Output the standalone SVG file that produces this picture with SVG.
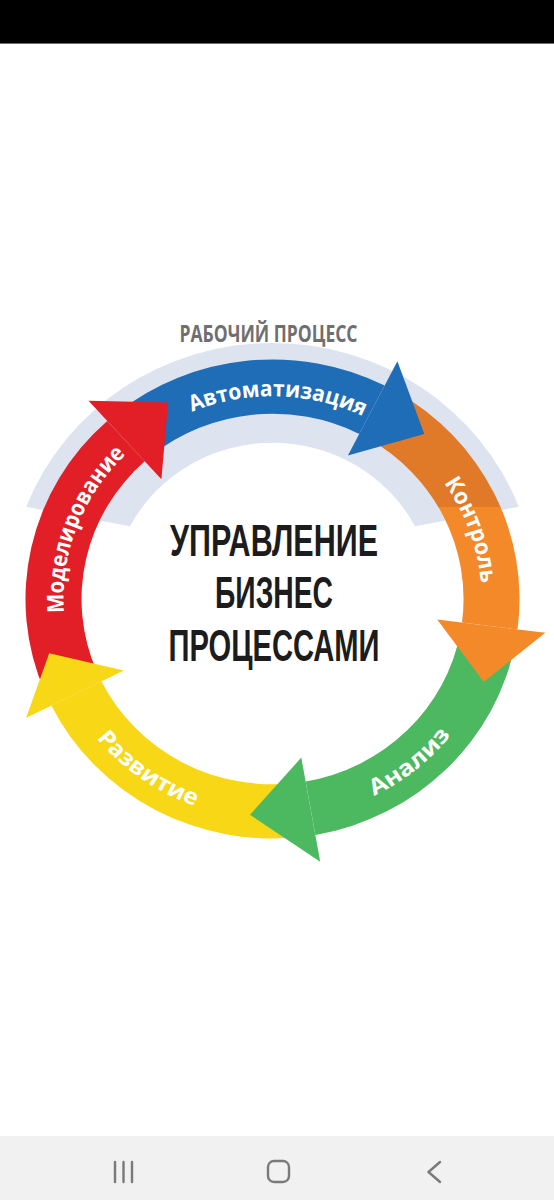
<svg xmlns="http://www.w3.org/2000/svg" width="554" height="1200" viewBox="0 0 554 1200">
<style>
.lbl{font-family:"Open Sans","Liberation Sans",sans-serif;font-weight:700;font-size:23px;fill:#ffffff}
.ctr{font-family:"Liberation Sans","Open Sans",sans-serif;font-weight:700;font-size:45px;fill:#1c1c1c}
.top{font-family:"Open Sans","Liberation Sans",sans-serif;font-weight:700;font-size:23px;fill:#6f6f6f}
.nav{fill:none;stroke:#7a7a7a;stroke-width:2.4;stroke-linecap:round;stroke-linejoin:round}
</style>
<defs>
<linearGradient id="og" gradientUnits="userSpaceOnUse" x1="0" y1="-96" x2="0" y2="-94">
<stop offset="0" stop-color="#e07a28"/><stop offset="0.5" stop-color="#e07a28"/>
<stop offset="0.5" stop-color="#f4892a"/><stop offset="1" stop-color="#f4892a"/>
</linearGradient>
<path id="pAvto" d="M -104.5 -181.0 A 209 209 0 0 1 113.8 -175.3"/>
<path id="pKontr" d="M 134.3 -160.1 A 209 209 0 0 1 205.4 38.5"/>
<path id="pModel" d="M -201.9 54.1 A 209 209 0 0 1 -115.1 -174.5"/>
<path id="pAnal" d="M 36.3 224.1 A 227 227 0 0 0 212.2 80.6"/>
<path id="pRazv" d="M -206.4 94.5 A 227 227 0 0 0 -21.4 226.0"/>
</defs>
<rect x="0" y="0" width="554" height="1200" fill="#ffffff"/>
<rect x="0" y="0" width="554" height="43" fill="#000000"/>
<rect x="0" y="43" width="554" height="1" fill="#6a6a6a"/>

<text id="workflow" class="top" x="268.5" y="342" text-anchor="middle" textLength="178" lengthAdjust="spacingAndGlyphs">РАБОЧИЙ ПРОЦЕСС</text>

<g transform="translate(272.5,599) scale(1,0.97)">
  <path id="band" d="M -246.3 -95 A 264 264 0 0 1 246.3 -95 L 142.5 -75 A 161 161 0 0 0 -142.5 -75 Z" fill="#dde4ef"/>
  <g id="connectors">
    <g id="bodies">
      <path d="M -227.4 96.5 A 247 247 0 0 1 -165.3 -183.5 L -127.8 -141.9 A 191 191 0 0 0 -175.8 74.6 Z" fill="#e21e26"/>
      <path d="M -155.4 -191.9 A 247 247 0 0 1 112.1 -220.1 L 86.7 -170.2 A 191 191 0 0 0 -120.2 -148.4 Z" fill="#1f6cb7"/>
      <path d="M 123.5 -213.9 A 247 247 0 0 1 245.0 31.4 L 189.5 24.3 A 191 191 0 0 0 95.5 -165.4 Z" fill="url(#og)"/>
      <path d="M 243.0 44.2 A 247 247 0 0 1 42.9 243.2 L 33.2 188.1 A 191 191 0 0 0 187.9 34.2 Z" fill="#4cb860"/>
      <path d="M 30.1 245.1 A 247 247 0 0 1 -221.2 109.8 L -171.1 84.9 A 191 191 0 0 0 23.3 189.6 Z" fill="#f7d716"/>
    </g>
    <g id="heads">
      <polygon points="-184.0,-204.4 -104.4,-202.7 -111.1,-123.4" fill="#e21e26"/>
      <polygon points="124.9,-245.0 151.8,-170.2 75.4,-147.9" fill="#1f6cb7"/>
      <polygon points="272.8,34.9 211.3,85.5 164.7,21.1" fill="#f4892a"/>
      <polygon points="47.7,270.8 -22.5,222.5 28.8,163.5" fill="#4cb860"/>
      <polygon points="-246.3,122.3 -223.3,56.0 -148.7,73.8" fill="#f7d716"/>
    </g>
  </g>
  <g id="node-modelirovanie"><text class="lbl"><textPath href="#pModel" startOffset="50%" text-anchor="middle" textLength="180" lengthAdjust="spacingAndGlyphs">Моделирование</textPath></text></g>
  <g id="node-avtomatizaciya"><text class="lbl"><textPath href="#pAvto" startOffset="50%" text-anchor="middle" textLength="176" lengthAdjust="spacingAndGlyphs">Автоматизация</textPath></text></g>
  <g id="node-kontrol"><text class="lbl"><textPath href="#pKontr" startOffset="50%" text-anchor="middle" textLength="111" lengthAdjust="spacingAndGlyphs">Контроль</textPath></text></g>
  <g id="node-analiz"><text class="lbl"><textPath href="#pAnal" startOffset="50%" text-anchor="middle" textLength="100" lengthAdjust="spacingAndGlyphs">Анализ</textPath></text></g>
  <g id="node-razvitie"><text class="lbl"><textPath href="#pRazv" startOffset="50%" text-anchor="middle" textLength="122" lengthAdjust="spacingAndGlyphs">Развитие</textPath></text></g>
</g>

<g id="node-center">
  <text class="ctr" x="274" y="556" text-anchor="middle" textLength="208" lengthAdjust="spacingAndGlyphs">УПРАВЛЕНИЕ</text>
  <text class="ctr" x="274" y="608" text-anchor="middle" textLength="118" lengthAdjust="spacingAndGlyphs">БИЗНЕС</text>
  <text class="ctr" x="274" y="661" text-anchor="middle" textLength="211" lengthAdjust="spacingAndGlyphs">ПРОЦЕССАМИ</text>
</g>

<g id="navbar">
  <rect x="0" y="1136" width="554" height="64" fill="#f1f1f1"/>
  <path class="nav" d="M115 1162 V1182 M123.5 1162 V1182 M132 1162 V1182"/>
  <rect class="nav" x="268" y="1161" width="21" height="21" rx="6"/>
  <path class="nav" d="M440 1162 L428.5 1172 L440 1182"/>
</g>
</svg>
